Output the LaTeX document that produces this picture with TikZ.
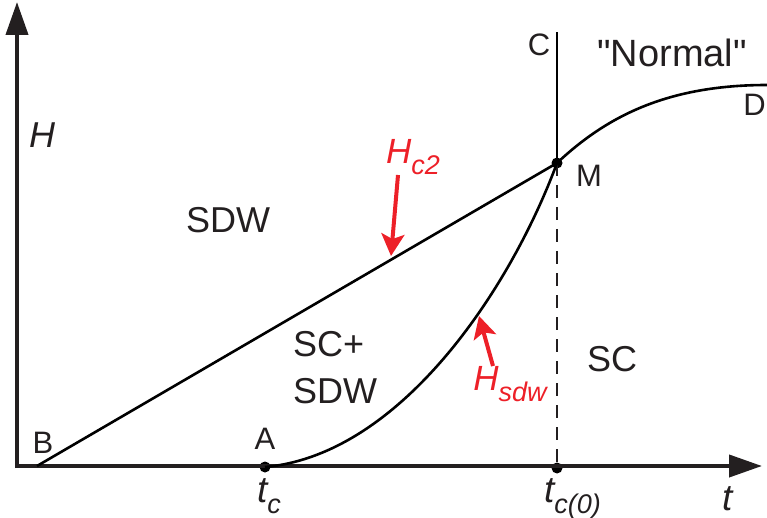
\documentclass[tikz,border=0pt]{standalone}
\usepackage{fontspec}
\setmainfont{Liberation Sans}[Ligatures=TeXOff]
\usetikzlibrary{arrows.meta}
\definecolor{myred}{RGB}{237,32,40}
\definecolor{ink}{RGB}{35,31,32}
\newcommand{\subtxt}[1]{\raisebox{-0.32em}{\fontsize{27}{27}\selectfont #1}}
\begin{document}
\begin{tikzpicture}[x=1pt,y=-1pt,
  axis/.style={line width=4pt,ink,-{Triangle[length=33pt,width=22pt]}},
  curve/.style={line width=2.6pt,black},
  redarr/.style={line width=4pt,myred,-{Stealth[length=22pt,width=23pt,inset=5pt]}},
  lbl/.style={font=\fontsize{31}{31}\selectfont,text=ink,inner sep=0pt},
  reg/.style={font=\fontsize{36}{36}\selectfont,text=ink,inner sep=0pt,align=left},
  redlbl/.style={font=\fontsize{35}{35}\selectfont\itshape,text=myred,inner sep=0pt},
  dot/.style={circle,fill=black,inner sep=0pt,minimum size=11pt}]
\useasboundingbox (0,0) rectangle (767,518);
\coordinate (O) at (17,466);
\coordinate (Ytop) at (17,2);
\coordinate (Xend) at (762,466);
\coordinate (Bp) at (37,466);
\node[dot] (A) at (265,467) {};
\node[dot] (M) at (557,163) {};
\node[dot] (T0) at (557,468) {};
\coordinate (Ctop) at (557,32);
\coordinate (Dend) at (767,85);
% axes
\draw[axis] (17,468) -- (Ytop);
\draw[axis] (15,466) -- (Xend);
% lines
\draw[curve] (Bp) -- (M.center);
\draw[curve] (M.center) -- (Ctop);
\draw[line width=1.1pt,ink,dash pattern=on 13pt off 9pt] (M.center) -- (T0.center);
\draw[curve] (A.center) .. controls (400,455) and (510,290) .. (M.center);
\draw[curve] (M.center) .. controls (605,118) and (665,85) .. (Dend);
% red arrows
\coordinate (hc2tail) at (398,175);
\coordinate (hc2tip) at (391,256);
\draw[redarr] (hc2tail) -- (hc2tip);
\coordinate (hsdwtail) at (493,366);
\coordinate (hsdwtip) at (479,316);
\draw[redarr] (hsdwtail) -- (hsdwtip);
% labels
\node[redlbl] (Hc2) at (413,157) {H\subtxt{c2}};
\node[redlbl] (Hsdw) at (510,384) {H\subtxt{sdw}};
\node[font=\fontsize{36}{36}\selectfont\itshape,text=ink,inner sep=0pt] (H) at (42,135) {H};
\node[reg] (sdw) at (228,220) {SDW};
\node[reg,anchor=west] (scsdw1) at (293,344) {SC+};
\node[reg,anchor=west] (scsdw2) at (293,391) {SDW};
\node[reg] (sc) at (612,359) {SC};
\node[reg,font=\fontsize{38}{38}\selectfont] (normal) at (672,53) {"Normal"};
\node[lbl] (Blbl) at (43,443) {B};
\node[lbl] (Albl) at (265,439) {A};
\node[lbl] (Clbl) at (539,45) {C};
\node[lbl] (Mlbl) at (589,176) {M};
\node[lbl,anchor=east] (Dlbl) at (766,105) {D};
\node[font=\fontsize{37}{37}\selectfont\itshape,text=ink,inner sep=0pt,anchor=base west] (tc) at (257,502) {t\subtxt{c}};
\node[font=\fontsize{37}{37}\selectfont\itshape,text=ink,inner sep=0pt,anchor=base west] (tc0) at (544,502) {t\subtxt{c(0)}};
\node[font=\fontsize{37}{37}\selectfont\itshape,text=ink,inner sep=0pt,anchor=base west] (t) at (722,510) {t};
\end{tikzpicture}
\end{document}
